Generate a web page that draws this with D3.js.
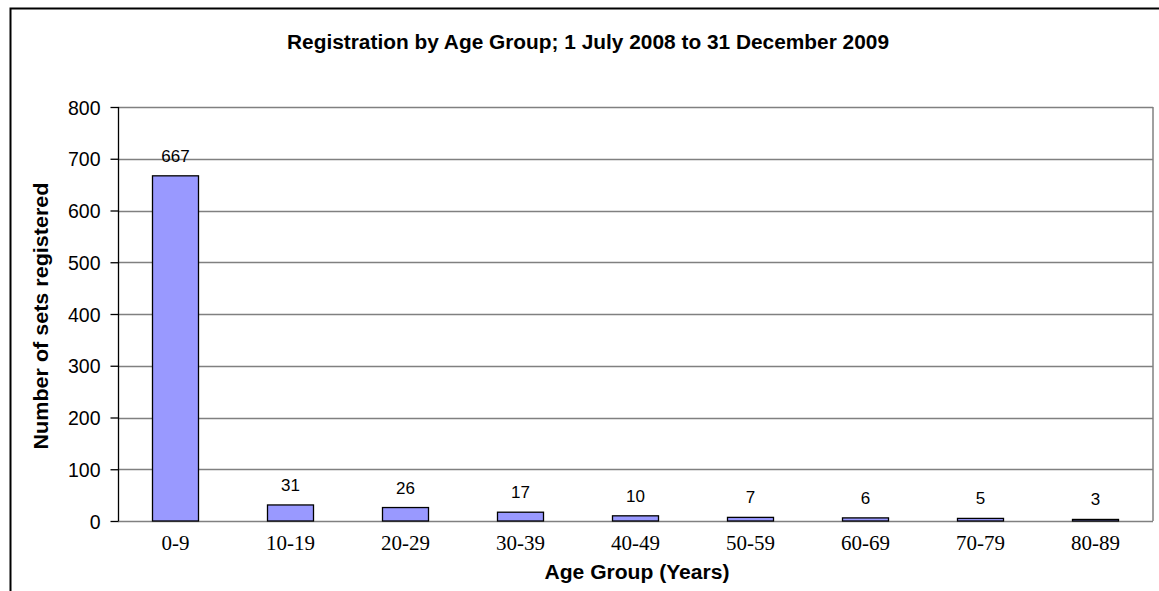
<!DOCTYPE html>
<html><head><meta charset="utf-8">
<script src="https://cdn.jsdelivr.net/npm/d3@7"></script>
<style>html,body{margin:0;padding:0;background:#fff;overflow:hidden}</style>
</head><body>
<svg id="chart" width="1159" height="591"></svg>
<script>
const categories = ["0-9","10-19","20-29","30-39","40-49","50-59","60-69","70-79","80-89"];
const values = [667,31,26,17,10,7,6,5,3];
const yTicks = [0,100,200,300,400,500,600,700,800];
const title = "Registration by Age Group; 1 July 2008 to 31 December 2009";
const xTitle = "Age Group (Years)";
const yTitle = "Number of sets registered";

const svg = d3.select("#chart");
const m = {left:118, right:1153, top:107, bottom:521};
const sans = "Liberation Sans, Arial, sans-serif";

// outer chart border
svg.append("path").attr("d","M10.5,600 L10.5,8.5 L1170,8.5")
  .attr("fill","none").attr("stroke","#000").attr("stroke-width",2);

const x = d3.scaleBand().domain(categories).range([m.left,m.right]).paddingInner(0.6).paddingOuter(0.3);
const y = d3.scaleLinear().domain([0,800]).range([m.bottom,m.top]);

// gridlines
svg.append("g").selectAll("line").data(yTicks.filter(d=>d>0)).join("line")
  .attr("x1",m.left).attr("x2",m.right)
  .attr("y1",d=>Math.round(y(d))+0.5).attr("y2",d=>Math.round(y(d))+0.5)
  .attr("stroke","#808080").attr("stroke-width",1.5);
// right border
svg.append("line").attr("x1",m.right).attr("x2",m.right).attr("y1",m.top).attr("y2",m.bottom)
  .attr("stroke","#808080").attr("stroke-width",1.5);
// bottom axis line
svg.append("line").attr("x1",m.left).attr("x2",m.right).attr("y1",m.bottom+0.5).attr("y2",m.bottom+0.5)
  .attr("stroke","#808080").attr("stroke-width",1.5);

// bars
svg.append("g").selectAll("rect").data(values).join("rect")
  .attr("x",(d,i)=>x(categories[i]))
  .attr("width",x.bandwidth())
  .attr("y",d=>y(d))
  .attr("height",d=>m.bottom-y(d))
  .attr("fill","#9999FF").attr("stroke","#000").attr("stroke-width",1.3);

// data labels
svg.append("g").selectAll("text").data(values).join("text")
  .attr("x",(d,i)=>x(categories[i])+x.bandwidth()/2)
  .attr("y",d=>y(d)-14)
  .attr("text-anchor","middle")
  .attr("font-family",sans).attr("font-size",17)
  .text(d=>d);

// y axis
const yAxis = svg.append("g").attr("transform",`translate(${m.left+0.5},0)`)
  .call(d3.axisLeft(y).tickValues(yTicks).tickSize(8).tickPadding(10).tickFormat(d3.format("d")));
yAxis.select(".domain").attr("stroke","#000").attr("stroke-width",1.3).attr("d",`M0,${m.top}V${m.bottom}`);
yAxis.selectAll(".tick line").attr("stroke","#000").attr("stroke-width",1.3);
yAxis.selectAll(".tick text").attr("font-family",sans).attr("font-size",19.5).attr("fill","#000")
  .attr("dy","0.36em");

// x axis
const xAxis = svg.append("g").attr("transform",`translate(0,${m.bottom})`)
  .call(d3.axisBottom(x).tickSize(0).tickPadding(14));
xAxis.select(".domain").remove();
xAxis.selectAll(".tick text").attr("font-family","Liberation Serif, Times New Roman, serif").attr("font-size",21).attr("fill","#000")
  .attr("y",29).attr("dy",0);

// titles
svg.append("text").attr("x",588).attr("y",49).attr("text-anchor","middle")
  .attr("font-family",sans).attr("font-weight","bold").attr("font-size",19.5)
  .attr("textLength",602).attr("lengthAdjust","spacingAndGlyphs")
  .text(title);
svg.append("text").attr("x",637).attr("y",579).attr("text-anchor","middle")
  .attr("font-family",sans).attr("font-weight","bold").attr("font-size",20)
  .attr("textLength",185).attr("lengthAdjust","spacingAndGlyphs")
  .text(xTitle);
svg.append("text").attr("transform","translate(48,316) rotate(-90)").attr("text-anchor","middle")
  .attr("font-family",sans).attr("font-weight","bold").attr("font-size",20)
  .attr("textLength",267).attr("lengthAdjust","spacingAndGlyphs")
  .text(yTitle);
</script>
</body></html>
